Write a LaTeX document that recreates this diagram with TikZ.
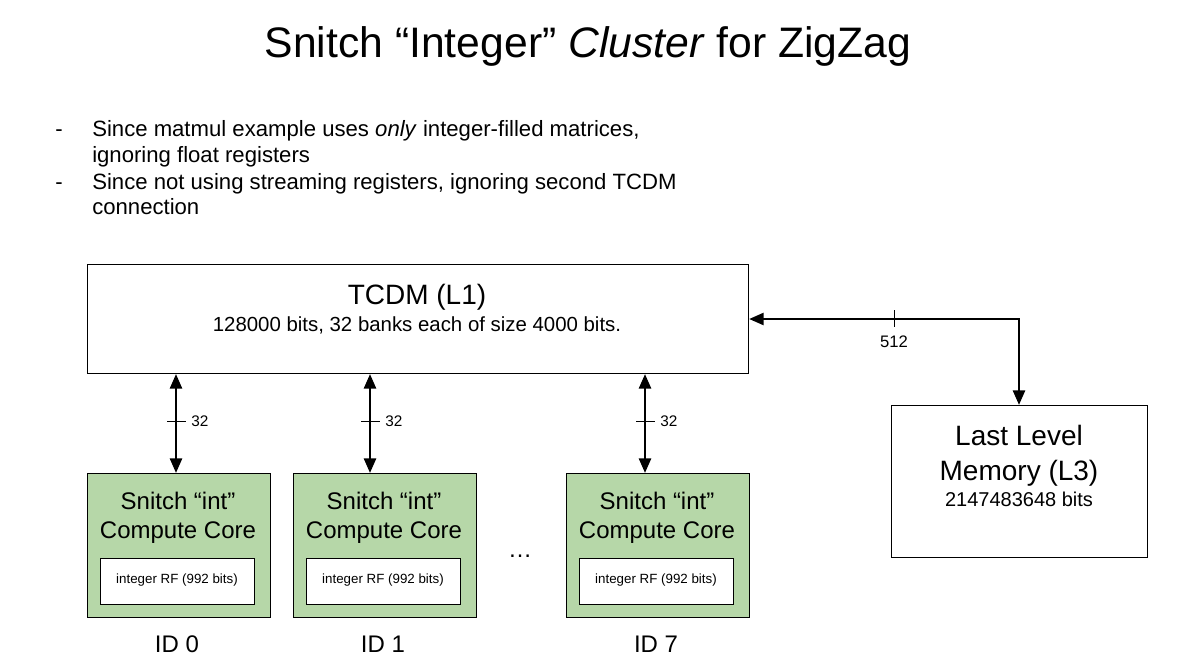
\documentclass[tikz,border=0pt]{standalone}
\usepackage{fontspec}
\setmainfont{Liberation Sans}
\usetikzlibrary{arrows.meta}
\definecolor{coregreen}{HTML}{B6D7A8}
\begin{document}
\begin{tikzpicture}[x=0.75pt,y=-0.75pt,
  box/.style={draw=black,line width=0.8pt,anchor=north west,inner sep=0pt},
  core/.style={box,fill=coregreen,minimum width=137pt,minimum height=108pt},
  rf/.style={box,fill=white,minimum width=115.5pt,minimum height=34.5pt},
  lbl/.style={inner sep=0pt,align=center,anchor=base},
  bus/.style={line width=2pt,{Triangle[length=11pt,width=9pt]}-{Triangle[length=11pt,width=9pt]}},
  tick/.style={line width=0.7pt}]
\useasboundingbox (0,0) rectangle (1185,660);
% title
\node[lbl,font=\fontsize{32}{38}\selectfont] (title) at (588,58) {Snitch “Integer” \textit{Cluster} for ZigZag};
% bullets
\begin{scope}[every node/.style={inner sep=0pt,anchor=base west,font=\fontsize{16.6}{20}\selectfont}]
\node (d1) at (55,136) {-};
\node (b1a) at (92,136) {Since matmul example uses \textit{only} integer-filled matrices,};
\node (b1b) at (92,162) {ignoring float registers};
\node (d2) at (55,189) {-};
\node (b2a) at (92,189) {Since not using streaming registers, ignoring second TCDM};
\node (b2b) at (92,214) {connection};
\end{scope}
% TCDM
\node[box,minimum width=495.75pt,minimum height=81.75pt] (tcdm) at (87,264) {};
\node[lbl,font=\fontsize{21}{25}\selectfont] (tcdmt) at (417,304) {TCDM (L1)};
\node[lbl,font=\fontsize{15.3}{18}\selectfont] (tcdms) at (417,331) {128000 bits, 32 banks each of size 4000 bits.};
% cores
\foreach \n/\x/\id in {c0/87/0,c1/293/1,c7/566/7}{
  \node[core] (\n) at (\x,473) {};
  \node[lbl,font=\fontsize{18}{21}\selectfont] (\n t1) at (\x+91,509) {Snitch “int”};
  \node[lbl,font=\fontsize{18}{21}\selectfont] (\n t2) at (\x+91,538) {Compute Core};
  \node[rf] (\n rf) at (\x+13,558) {};
  \node[lbl,font=\fontsize{10}{12}\selectfont] (\n rft) at (\x+90,583) {integer RF (992 bits)};
  \node[lbl,font=\fontsize{18}{21}\selectfont] (\n id) at (\x+90,652) {ID \id};
}
\node[lbl,font=\fontsize{18}{21}\selectfont] (dots) at (520,557) {…};
% L3
\node[box,minimum width=192pt,minimum height=114pt] (l3) at (891,405) {};
\node[lbl,font=\fontsize{21}{25}\selectfont] (l3a) at (1019,445) {Last Level};
\node[lbl,font=\fontsize{21}{25}\selectfont] (l3b) at (1019,480) {Memory (L3)};
\node[lbl,font=\fontsize{15}{18}\selectfont] (l3c) at (1019,506) {2147483648 bits};
% vertical buses
\foreach \n/\x in {c0/176,c1/370,c7/645}{
  \draw[bus] (\x,374) -- (\x,473);
  \draw[tick] (\x-9,421) -- (\x+10,421);
  \node[lbl,anchor=base west,font=\fontsize{11.5}{14}\selectfont] at (\x+15,426.5) {32};
}
% L3 bus
\coordinate (corner) at (1019,319);
\draw[line width=2pt,{Triangle[length=11pt,width=9pt]}-{Triangle[length=11pt,width=9pt]}]
  (tcdm.east|-corner) -- (corner) -- (l3.north-|corner);
\draw[tick] (894,310) -- (894,327);
\node[lbl,font=\fontsize{12.5}{15}\selectfont] (w512) at (894,347) {512};
\end{tikzpicture}
\end{document}
